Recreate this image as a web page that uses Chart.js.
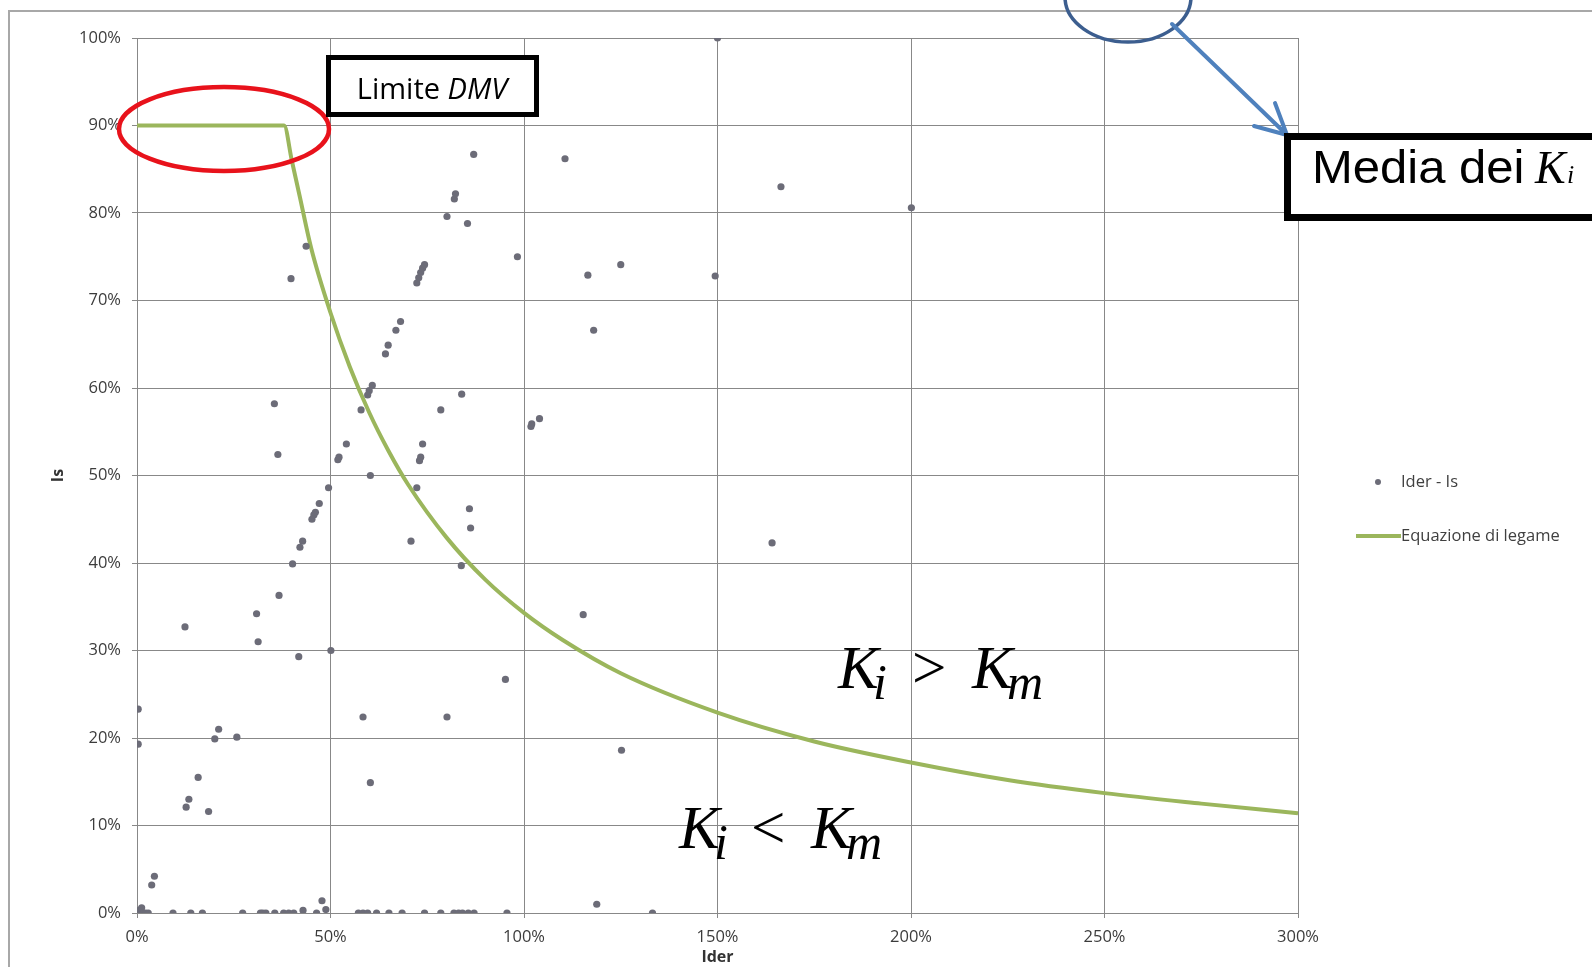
<!DOCTYPE html>
<html><head><meta charset="utf-8">
<script src="https://cdn.jsdelivr.net/npm/chart.js@4.4.1/dist/chart.umd.min.js"></script>
<style>html,body{margin:0;padding:0;background:#fff;overflow:hidden}canvas{display:block}</style>
</head><body>
<canvas id="c" width="1592" height="967"></canvas>
<script>
// ---- data (percent units) ----
const seriesNames = ['Ider - Is', 'Equazione di legame'];

const iderValues = [
  150, 87, 110.6, 82, 82.3, 80.1, 85.4, 43.7, 39.8, 98.3, 125, 116.5, 149.4,
  72.3, 72.8, 73.3, 73.8, 74.3, 68.1, 66.9, 64.9, 64.2, 118, 166.4, 200.1,
  35.5, 36.4, 60.8, 60.0, 59.6, 57.9, 83.9, 78.5, 102, 101.8, 104,
  54.1, 52.2, 51.9, 73.8, 73.3, 73.0, 60.3, 49.5, 72.3, 47.1, 46.1, 45.7, 45.2,
  85.9, 86.2, 42.8, 42.1, 70.8, 40.2, 83.8, 36.7, 30.9, 115.3, 164.1,
  12.4, 31.3, 41.8, 50.1, 95.2, 0.3, 0.3, 58.4, 80.1, 21.1, 20.1, 25.8,
  15.8, 60.3, 125.2, 13.4, 12.7, 18.5, 4.5, 3.8, 47.8, 118.8, 133.2,
  0, 0.6, 1.2, 1.6, 2.2, 2.9,
  9.3, 13.9, 16.9, 27.3, 31.9, 32.5, 33.3, 35.6, 37.9, 39.2, 40.5, 42.9, 46.4, 48.8,
  57.2, 58.4, 59.6, 61.9, 65.1, 68.5, 74.3, 78.5, 81.9, 83.1, 84.1, 85.6, 87.1, 95.6
];
const isValues = [
  100, 86.7, 86.2, 81.6, 82.2, 79.6, 78.8, 76.2, 72.5, 75.0, 74.1, 72.9, 72.8,
  72.0, 72.6, 73.2, 73.7, 74.1, 67.6, 66.6, 64.9, 63.9, 66.6, 83.0, 80.6,
  58.2, 52.4, 60.3, 59.7, 59.2, 57.5, 59.3, 57.5, 55.9, 55.6, 56.5,
  53.6, 52.1, 51.8, 53.6, 52.1, 51.7, 50.0, 48.6, 48.6, 46.8, 45.8, 45.5, 45.0,
  46.2, 44.0, 42.5, 41.8, 42.5, 39.9, 39.7, 36.3, 34.2, 34.1, 42.3,
  32.7, 31.0, 29.3, 30.0, 26.7, 23.3, 19.3, 22.4, 22.4, 21.0, 19.9, 20.1,
  15.5, 14.9, 18.6, 13.0, 12.1, 11.6, 4.2, 3.2, 1.4, 1.0, 0,
  0, 0.3, 0.6, 0, 0, 0,
  0, 0, 0, 0, 0, 0, 0, 0, 0, 0, 0, 0.3, 0, 0.4,
  0, 0, 0, 0, 0, 0, 0, 0, 0, 0, 0, 0, 0, 0
];

const curveIder = [0, 38, 40, 42, 45, 50, 55, 60, 65, 70, 80, 90, 100, 110, 125, 150, 175, 200, 225, 250, 275, 300];
const curveIs   = [90, 90, 86, 82, 76, 68.6, 62.4, 57.2, 52.8, 49, 42.9, 38.1, 34.3, 31.2, 27.4, 22.9, 19.6, 17.2, 15.2, 13.7, 12.5, 11.4];

const xTicks = [0, 50, 100, 150, 200, 250, 300];
const yTicks = [0, 10, 20, 30, 40, 50, 60, 70, 80, 90, 100];

// ---- styles ----
const pointColor = '#6c6c78';
const lineColor = '#9bb65c';
const gridColor = '#888888';
const tickColor = '#3c3c3c';
Chart.defaults.font.family = "'Open Sans', sans-serif";

function drawAnnotations(chart) {
  const ctx = chart.ctx;
  ctx.save();

  // red ellipse (Limite DMV)
  ctx.beginPath();
  ctx.ellipse(224, 129, 105, 42, 0, 0, Math.PI * 2);
  ctx.strokeStyle = '#e8121b';
  ctx.lineWidth = 4.5;
  ctx.stroke();

  // Limite DMV box
  ctx.fillStyle = '#fff';
  ctx.fillRect(326, 55, 213, 62);
  ctx.strokeStyle = '#000';
  ctx.lineWidth = 5;
  ctx.strokeRect(328.5, 57.5, 208, 57);
  ctx.fillStyle = '#000';
  ctx.textBaseline = 'alphabetic';
  ctx.textAlign = 'left';
  ctx.font = "29px 'Open Sans'";
  const w1 = ctx.measureText('Limite ').width;
  ctx.font = "italic 29px 'Open Sans'";
  const w2 = ctx.measureText('DMV').width;
  let sx = 432 - (w1 + w2) / 2;
  ctx.font = "29px 'Open Sans'";
  ctx.fillText('Limite ', sx, 99);
  ctx.font = "italic 29px 'Open Sans'";
  ctx.fillText('DMV', sx + w1, 99);

  // blue circle at top
  ctx.beginPath();
  ctx.ellipse(1128, -3, 63, 45, 0, 0, Math.PI * 2);
  ctx.strokeStyle = '#3c5e8f';
  ctx.lineWidth = 3.5;
  ctx.stroke();

  // arrow
  ctx.strokeStyle = '#4f81bd';
  ctx.lineWidth = 4;
  ctx.lineCap = 'round';
  ctx.beginPath();
  ctx.moveTo(1172, 24);
  ctx.lineTo(1286, 134);
  ctx.moveTo(1275, 103);
  ctx.lineTo(1287, 135);
  ctx.lineTo(1254, 126);
  ctx.stroke();
  ctx.lineCap = 'butt';

  // Media dei Ki box
  ctx.fillStyle = '#fff';
  ctx.fillRect(1284, 133, 320, 88);
  ctx.strokeStyle = '#000';
  ctx.lineWidth = 7;
  ctx.strokeRect(1287.5, 136.5, 400, 81);
  ctx.fillStyle = '#000';
  ctx.save();
  ctx.translate(1312, 183);
  ctx.scale(1.065, 1);
  ctx.font = "46px 'Liberation Sans'";
  ctx.fillText('Media dei', 0, 0);
  ctx.restore();
  ctx.font = "italic 46px 'Liberation Serif'";
  ctx.fillText('K', 1535, 183);
  ctx.font = "italic 26px 'Liberation Serif'";
  ctx.fillText('i', 1567, 183);

  // Ki > Km and Ki < Km
  function expr(x, base, op, xs) {
    ctx.fillStyle = '#000';
    ctx.font = "italic 61px 'Liberation Serif'";
    ctx.fillText('K', x, base);
    ctx.font = "italic 50px 'Liberation Serif'";
    ctx.fillText('i', x + xs[0], base + 11);
    ctx.font = "61px 'Liberation Serif'";
    ctx.fillText(op, x + xs[1], base);
    ctx.font = "italic 61px 'Liberation Serif'";
    ctx.fillText('K', x + xs[2], base);
    ctx.font = "italic 50px 'Liberation Serif'";
    ctx.fillText('m', x + xs[3], base + 11);
  }
  expr(838, 688, '>', [35, 74, 134, 169]);
  expr(679, 848, '<', [35, 72, 132, 167]);

  // legend
  ctx.fillStyle = pointColor;
  ctx.beginPath();
  ctx.arc(1378, 482, 3, 0, Math.PI * 2);
  ctx.fill();
  ctx.strokeStyle = lineColor;
  ctx.lineWidth = 4;
  ctx.beginPath();
  ctx.moveTo(1356, 536);
  ctx.lineTo(1401, 536);
  ctx.stroke();
  ctx.fillStyle = '#404040';
  ctx.font = "16.5px 'Open Sans'";
  ctx.textBaseline = 'middle';
  ctx.fillText(seriesNames[0], 1401, 482);
  ctx.fillText(seriesNames[1], 1401, 536);
  ctx.restore();
}

const annotations = {
  id: 'annotations',
  beforeDraw(chart) {
    const ctx = chart.ctx;
    ctx.save();
    ctx.fillStyle = '#fff';
    ctx.fillRect(0, 0, chart.width, chart.height);
    ctx.strokeStyle = '#a8a8a8';
    ctx.lineWidth = 2;
    ctx.beginPath();
    ctx.moveTo(9, 967);
    ctx.lineTo(9, 11);
    ctx.lineTo(1592, 11);
    ctx.stroke();
    ctx.restore();
  },
  afterDraw(chart) { drawAnnotations(chart); }
};

new Chart(document.getElementById('c'), {
  type: 'scatter',
  data: {
    datasets: [
      {
        label: seriesNames[0],
        data: iderValues.map((x, i) => ({ x: x, y: isValues[i] })),
        backgroundColor: pointColor,
        borderColor: pointColor,
        pointRadius: 3.6,
        borderWidth: 0,
        showLine: false
      },
      {
        label: seriesNames[1],
        data: curveIder.map((x, i) => ({ x: x, y: curveIs[i] })),
        showLine: true,
        borderColor: lineColor,
        borderWidth: 4,
        pointRadius: 0,
        cubicInterpolationMode: 'monotone',
        fill: false
      }
    ]
  },
  options: {
    responsive: false,
    animation: false,
    devicePixelRatio: 1,
    layout: { padding: { left: 0, top: 38, right: 294, bottom: 0 } },
    plugins: { legend: { display: false }, tooltip: { enabled: false } },
    scales: {
      x: {
        type: 'linear', min: 0, max: 300,
        afterBuildTicks: s => { s.ticks = xTicks.map(v => ({ value: v })); },
        afterFit: s => { s.height = 54; s.paddingLeft = 0; s.paddingRight = 0; },
        grid: { color: gridColor, lineWidth: 1, tickLength: 5, drawTicks: true },
        border: { color: gridColor, width: 1 },
        ticks: { color: tickColor, font: { size: 16.5 }, padding: 9, callback: v => v + '%' },
        title: { display: true, text: 'Ider', color: '#333', font: { size: 16, weight: 'bold' }, padding: { top: 0, bottom: 0 } }
      },
      y: {
        type: 'linear', min: 0, max: 100,
        afterBuildTicks: s => { s.ticks = yTicks.map(v => ({ value: v })); },
        afterFit: s => { s.width = 137; s.paddingTop = 0; s.paddingBottom = 0; },
        grid: { color: gridColor, lineWidth: 1, tickLength: 5, drawTicks: true },
        border: { color: gridColor, width: 1 },
        ticks: { color: tickColor, font: { size: 16.5 }, padding: 11, callback: v => v + '%' },
        title: { display: true, text: 'Is', color: '#333', font: { size: 16, weight: 'bold' }, padding: { top: 49, bottom: 0 } }
      }
    }
  },
  plugins: [annotations]
});
</script>
</body></html>
